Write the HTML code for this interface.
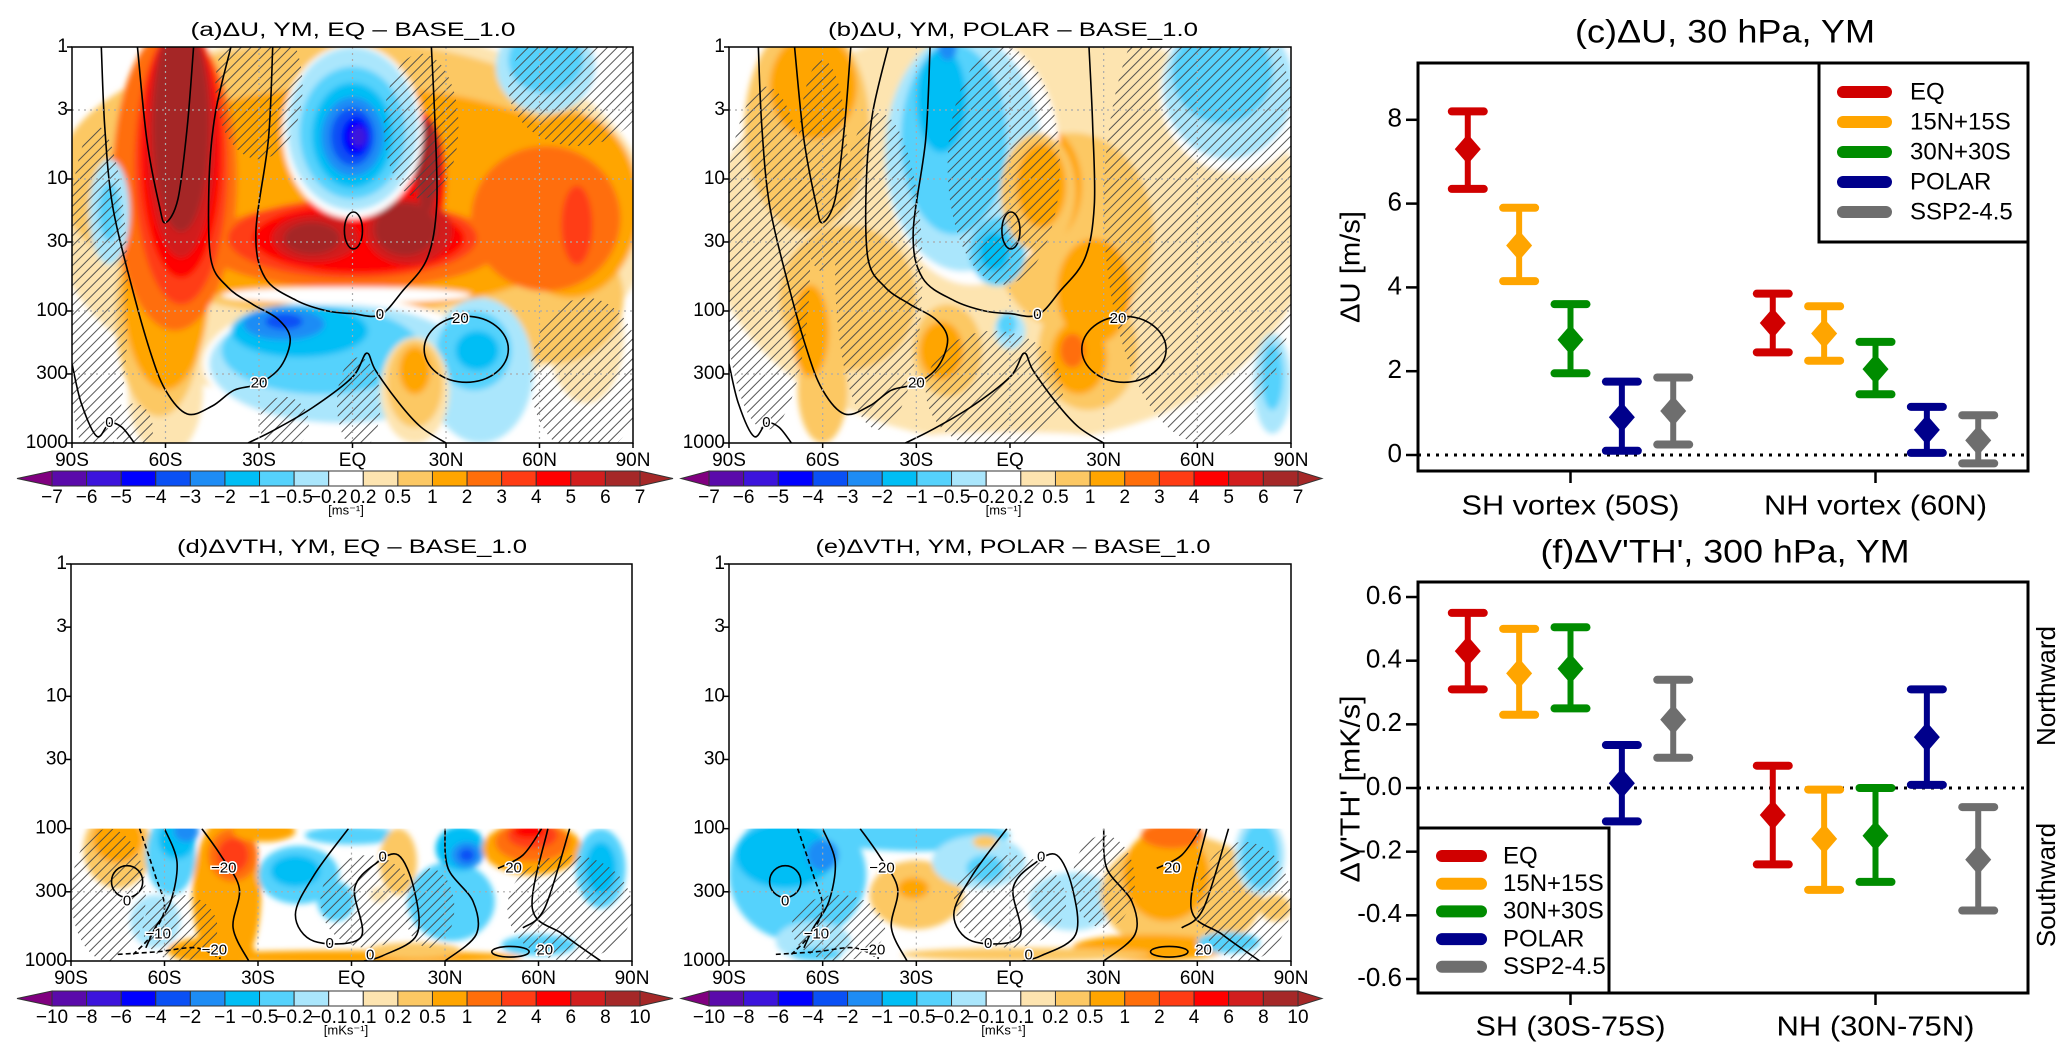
<!DOCTYPE html>
<html><head><meta charset="utf-8"><title>Figure</title>
<style>
html,body{margin:0;padding:0;background:#fff;}
svg{display:block;font-family:"Liberation Sans",sans-serif;}
</style></head>
<body>
<svg id="fig" width="2067" height="1053" viewBox="0 0 2067 1053" xmlns="http://www.w3.org/2000/svg">
<defs>
<pattern id="hatch" width="7" height="7" patternUnits="userSpaceOnUse" patternTransform="rotate(45)"><line x1="1" y1="0" x2="1" y2="7" stroke="#444" stroke-width="0.9"/></pattern>
<filter id="soft" filterUnits="userSpaceOnUse" x="0" y="0" width="2067" height="1053"><feGaussianBlur stdDeviation="3"/></filter>
</defs>
</svg>
<script>
// ===== Panel (c) data =====
const catsC=['SH vortex (50S)','NH vortex (60N)'];
const seriesNames=['EQ','15N+15S','30N+30S','POLAR','SSP2-4.5'];
const seriesColors=['#d00000','#ffa500','#008c00','#00008b','#6e6e6e'];
const cMean=[[7.3,5.0,2.75,0.9,1.05],[3.15,2.9,2.05,0.6,0.35]];
const cLow=[[6.35,4.15,1.95,0.1,0.25],[2.45,2.25,1.45,0.05,-0.2]];
const cHigh=[[8.2,5.9,3.6,1.75,1.85],[3.85,3.55,2.7,1.15,0.95]];
const cTicks=[0,2,4,6,8];
// ===== Panel (f) data =====
const catsF=['SH (30S-75S)','NH (30N-75N)'];
const fMean=[[0.43,0.36,0.375,0.015,0.215],[-0.085,-0.16,-0.15,0.16,-0.225]];
const fLow=[[0.31,0.23,0.25,-0.105,0.095],[-0.24,-0.32,-0.295,0.01,-0.385]];
const fHigh=[[0.55,0.5,0.505,0.135,0.34],[0.07,-0.005,0.0,0.31,-0.06]];
const fTicks=['0.6','0.4','0.2','0.0','-0.2','-0.4','-0.6'];
const fTickVals=[0.6,0.4,0.2,0.0,-0.2,-0.4,-0.6];
// ===== colorbar labels =====
const cbU=['−7','−6','−5','−4','−3','−2','−1','−0.5','−0.2','0.2','0.5','1','2','3','4','5','6','7'];
const cbV=['−10','−8','−6','−4','−2','−1','−0.5','−0.2','−0.1','0.1','0.2','0.5','1','2','4','6','8','10'];
const pTicks=[1,3,10,30,100,300,1000];
const latTicks=['90S','60S','30S','EQ','30N','60N','90N'];

const NS='http://www.w3.org/2000/svg';
const svg=document.getElementById('fig');
function mk(tag,attrs,parent){const e=document.createElementNS(NS,tag);for(const k in attrs)e.setAttribute(k,attrs[k]);(parent||svg).appendChild(e);return e;}
function txt(s,attrs,parent){const e=mk('text',attrs,parent);e.textContent=s;return e;}

const COL={c1:'#fde4b0',c2:'#fcc864',c3:'#ffa500',c4:'#ff6e0a',c5:'#ff3c14',c6:'#ff0000',c7:'#d21e1e',c8:'#a52828',
b1:'#aae6fc',b2:'#55d2fc',b3:'#00bef5',b4:'#1e8cf5',b5:'#0a50f5',b6:'#0000ff',b7:'#3c14dc',b8:'#5a0aaa',w:'#ffffff'};
const cbColors=['b8','b7','b6','b5','b4','b3','b2','b1','w','c1','c2','c3','c4','c5','c6','c7','c8'];

function smooth(pts){
  let d='M'+pts[0][0]+','+pts[0][1];
  for(let i=0;i<pts.length-1;i++){
    const p0=pts[Math.max(0,i-1)],p1=pts[i],p2=pts[i+1],p3=pts[Math.min(pts.length-1,i+2)];
    const c1x=p1[0]+(p2[0]-p0[0])/6,c1y=p1[1]+(p2[1]-p0[1])/6,c2x=p2[0]-(p3[0]-p1[0])/6,c2y=p2[1]-(p3[1]-p1[1])/6;
    d+=' C'+c1x.toFixed(1)+','+c1y.toFixed(1)+' '+c2x.toFixed(1)+','+c2y.toFixed(1)+' '+p2[0].toFixed(1)+','+p2[1].toFixed(1);
  }
  return d;
}

function field(cfg){
  const {id,L,T,W,H,minLog}=cfg;
  const X=lat=>L+(lat+90)/180*W, Y=lg=>T+lg/3*H;
  const g=mk('g',{});
  
  
  const clip=mk('clipPath',{id:'clip-'+id},svg.querySelector('defs'));
  mk('rect',{x:L,y:Y(minLog),width:W,height:T+H-Y(minLog)},clip);
  const cg=mk('g',{'clip-path':'url(#clip-'+id+')'},g);
  const sg=mk('g',{filter:'url(#soft)'},cg);
  cfg.shapes.forEach(s=>{
    const e=mk('ellipse',{cx:X(s[1]),cy:Y(s[2]),rx:s[3]/180*W,ry:s[4]/3*H,fill:COL[s[0]]},sg);
    
    
  });
  cfg.hatches.forEach(s=>{
    const e=mk('ellipse',{cx:X(s[0]),cy:Y(s[1]),rx:s[2]/180*W,ry:s[3]/3*H,fill:'url(#hatch)'},cg);
    
    
  });
  [-60,-30,0,30,60].forEach(lat=>{
    const e=mk('line',{x1:X(lat),x2:X(lat),y1:Y(minLog),y2:T+H,stroke:'#aaa','stroke-width':1.2,'stroke-dasharray':'2 4'},g);
    
    
  });
  pTicks.forEach(p=>{const lg=Math.log10(p);if(lg>minLog&&lg<3){
    const e=mk('line',{x1:L,x2:L+W,y1:Y(lg),y2:Y(lg),stroke:'#aaa','stroke-width':1.2,'stroke-dasharray':'2 4'},g);
    
    }});
  cfg.contours.forEach(c=>{
    const pts=c.pts.map(q=>[X(q[0]),Y(q[1])]);
    const e=mk('path',{d:smooth(pts),fill:'none',stroke:'#000','stroke-width':1.6,'stroke-dasharray':c.dash?'5 3':'none'},cg);
    
    
  });
  (cfg.loops||[]).forEach(c=>{
    const e=mk('ellipse',{cx:X(c[0]),cy:Y(c[1]),rx:c[2]/180*W,ry:c[3]/3*H,fill:'none',stroke:'#000','stroke-width':1.6},cg);
    
    
  });
  (cfg.clabels||[]).forEach(c=>{
    const e=txt(c[2],{x:X(c[0]),y:Y(c[1]),'font-size':15,'text-anchor':'middle','dominant-baseline':'middle',fill:'#000',stroke:'#fff','stroke-width':3,'paint-order':'stroke'},cg);
    
    
  });
  const fr=mk('rect',{x:L,y:T,width:W,height:H,fill:'none',stroke:'#000','stroke-width':1.5},g);
  
  
  pTicks.forEach(p=>{
    const y=Y(Math.log10(p));
    mk('line',{x1:L-5,x2:L,y1:y,y2:y,stroke:'#000','stroke-width':1.5},g);
    const t=txt(String(p),{x:L-4,y:y,'font-size':19,'text-anchor':'end','dominant-baseline':'middle'},g);
    
    
  });
  latTicks.forEach((s,i)=>{
    const x=L+i*W/6;
    mk('line',{x1:x,x2:x,y1:T+H,y2:T+H+5,stroke:'#000','stroke-width':1.5},g);
    const t=txt(s,{x:x,y:T+H+18,'font-size':19,'text-anchor':'middle','dominant-baseline':'middle'},g);
    
    
  });
  const ti=txt(cfg.title,{x:cfg.titleX,y:T-16,'font-size':19,'text-anchor':'middle','dominant-baseline':'middle',textLength:cfg.titleW,lengthAdjust:'spacingAndGlyphs'},g);
  
  
  const cb=mk('g',{},g);
  
  
  const n=cbColors.length,bw=(cfg.cbX1-cfg.cbX0)/n,y0=cfg.cbY,y1=cfg.cbY+15;
  mk('polygon',{points:`${cfg.cbX0},${y0} ${cfg.cbX0},${y1} ${cfg.cbTipL},${(y0+y1)/2}`,fill:'#800080',stroke:'#333','stroke-width':1},cb);
  mk('polygon',{points:`${cfg.cbX1},${y0} ${cfg.cbX1},${y1} ${cfg.cbTipR},${(y0+y1)/2}`,fill:'#a52828',stroke:'#333','stroke-width':1},cb);
  cbColors.forEach((c,i)=>{
    const r=mk('rect',{x:cfg.cbX0+i*bw,y:y0,width:bw,height:15,fill:COL[c],stroke:'#333','stroke-width':1},cb);
    
    
  });
  cfg.cbLabels.forEach((s,i)=>{
    const t=txt(s,{x:cfg.cbX0+i*bw,y:y1+12,'font-size':19,'text-anchor':'middle','dominant-baseline':'middle'},cb);
    
    
  });
  const u=txt(cfg.unit,{x:(cfg.cbX0+cfg.cbX1)/2,y:y1+25,'font-size':13,'text-anchor':'middle','dominant-baseline':'middle'},cb);
  
  
}

const uContours=[
 {pts:[[-80.6,0],[-79.5,0.6],[-77,1.2],[-71,1.8],[-65,2.3],[-60,2.6],[-53,2.78],[-45,2.72],[-38,2.6],[-30,2.55],[-23,2.42],[-20,2.21],[-24,2.06],[-32,1.95],[-40,1.82],[-45.5,1.6],[-46,1.0],[-44,0.5],[-39,0]]},
 {pts:[[-69,0],[-66,0.7],[-62,1.2],[-60,1.33],[-56,1.15],[-53,0.6],[-51,0]]},
 {pts:[[-25.6,0],[-27,0.7],[-31,1.4],[-28,1.75],[-18,1.92],[-8,2.0],[0,2.02],[8.8,2.03],[16,1.85],[24,1.6],[27,1.2],[26.5,0.6],[25.3,0]]},
 {pts:[[-33.5,3.0],[-25,2.9],[-12.7,2.73],[0,2.5],[4.5,2.32],[7.4,2.45],[15,2.7],[22,2.88],[30,3.0]]},
 {pts:[[-90,2.4],[-87,2.7],[-82,2.95],[-78,2.85],[-74,2.88],[-70,3.0]]}
];
const uLoops=[[0.3,1.39,2.9,0.14],[36.5,2.29,13.5,0.25]];
const uLabels=[[8.8,2.03,'0'],[-30,2.55,'20'],[34.6,2.06,'20'],[-78,2.85,'0']];

field({id:'panel-a',L:72,T:47,W:561,H:396,minLog:0,title:'(a)ΔU, YM, EQ – BASE_1.0',titleX:353,titleW:325,
 cbLabels:cbU,cbX0:52,cbX1:640,cbTipL:17,cbTipR:673,cbY:471,unit:'[ms⁻¹]',
 shapes:[
  ['c1',0,1.3,96,1.45],['c1',-60,2.6,12,0.5],['c1',75,2.2,12,0.5],
  ['w',70,0.1,22,0.3],
  ['c2',-5,1.0,90,1.05],['c2',-62,2.0,14,0.8],['c2',65,1.9,22,0.5],
  ['c3',0,1.15,84,0.85],['c3',-60,1.8,14,0.8],['c3',70,1.2,22,0.7],
  ['c4',-57,1.0,20,1.15],['c4',62,1.3,24,0.55],['c4',0,1.5,48,0.33],
  ['c5',-55,0.9,15,1.05],['c5',0,1.45,40,0.3],['c5',72,1.35,5,0.3],
  ['c6',-55,0.8,13,0.95],['c6',2,1.45,34,0.26],['c6',22,1.0,8,0.5],
  ['c7',-55,0.7,11,0.9],['c7',-12,1.45,14,0.18],['c7',18,1.4,14,0.25],
  ['c8',-55,0.6,9,0.8],['c8',-13,1.45,9,0.12],['c8',17,1.38,10,0.2],['c8',24,0.9,4,0.35],
  ['w',0,0.64,22.5,0.66],
  ['b1',0,0.62,21,0.62],['b2',0,0.65,17,0.5],['b3',0,0.67,13,0.4],['b4',0,0.68,10,0.3],['b5',0,0.68,7,0.22],['b6',1,0.68,4.5,0.15],['b7',2,0.68,2.5,0.08],
  ['w',-2,1.88,40,0.06],
  ['w',-2,2.4,46,0.5],
  ['b1',-4,2.4,42,0.45],['b2',-10,2.3,32,0.33],['b3',-17,2.15,22,0.2],['b4',-22,2.1,13,0.12],['b5',-22,2.08,6,0.06],
  ['b1',41,2.45,17,0.55],['b2',39,2.3,12,0.3],['b3',40,2.3,7,0.15],
  ['c1',20,2.6,11,0.4],['c2',20,2.55,9,0.33],['c3',20,2.45,5,0.18],
  ['w',-85,2.8,10,0.4],
  ['b1',-78,1.25,6.5,0.4],['b2',-78,1.25,3.5,0.22],
  ['b1',62,0.15,16,0.35],['b2',62,0.1,12,0.25]
 ],
 hatches:[[-82,1.9,10,1.3],[-30,0.3,14,0.55],[22,0.6,12,0.55],[72,0.3,22,0.45],[75,2.5,18,0.6],[2,2.7,7,0.35],[-22,2.85,8,0.2],[-70,2.9,6,0.2]],
 contours:uContours,loops:uLoops,clabels:uLabels});

field({id:'panel-b',L:729,T:47,W:562,H:396,minLog:0,title:'(b)ΔU, YM, POLAR – BASE_1.0',titleX:1013,titleW:370,
 cbLabels:cbU,cbX0:709,cbX1:1298,cbTipL:681,cbTipR:1322,cbY:471,unit:'[ms⁻¹]',
 shapes:[
  ['c1',0,1.4,96,1.6],['w',-85,2.95,8,0.15],['w',0,2.97,30,0.05],
  ['c2',-65,0.6,20,0.8],['c2',-52,1.9,22,0.55],['c2',-20,2.3,11,0.35],['c2',20,1.4,26,0.75],['c2',25,2.3,16,0.45],['c2',-60,2.6,8,0.4],
  ['c3',-63,0.3,14,0.4],['c3',10,1.05,13,0.45],['c3',27,1.85,12,0.4],['c3',22,2.35,9,0.28],['c3',-22,2.3,7,0.22],['c3',-64,2.15,6,0.35],
  ['c4',20,2.3,4,0.13],
  ['w',-12,0.85,28,0.95],
  ['b1',-15,0.8,25,0.9],['b2',-18,0.7,17,0.72],['b3',-22,0.4,8,0.4],['b4',-20,0.0,3,0.1],['b2',-4,1.55,9,0.26],['b3',-5,1.55,5,0.15],
  ['c2',9,1.1,12,0.45],['c3',10,1.05,8,0.32],
  ['w',72,0.35,24,0.6],['b1',70,0.3,21,0.55],['b2',68,0.2,16,0.38],
  ['b1',0,2.15,5,0.14],['b2',-1,2.1,3,0.09],['b1',84,2.55,6,0.38],['b2',84,2.5,3.5,0.25]
 ],
 hatches:[[-78,1.6,14,1.3],[-42,1.7,14,1.2],[-2,0.9,18,0.9],[62,1.2,32,1.8],[-5,2.6,22,0.45],[-60,0.9,8,0.8]],
 contours:uContours,loops:uLoops,clabels:uLabels});

const vContoursD=[
 {pts:[[-68,2.0],[-63,2.35],[-60,2.6],[-64,2.8],[-70,2.95]],dash:true},
 {pts:[[-60,2.0],[-56,2.25],[-58,2.55],[-63,2.75],[-66,2.9]]},
 {pts:[[-48,2.0],[-42,2.2],[-36,2.45],[-38,2.75],[-33,3.0]]},
 {pts:[[-1,2.0],[-12,2.35],[-18,2.65],[-12,2.85],[3,2.82],[1,2.45],[8,2.26],[15,2.2],[20,2.45],[21,2.8],[10,2.96],[4,3.0]]},
 {pts:[[30,2.0],[31,2.3],[39,2.55],[40,2.8],[30,3.0]]},
 {pts:[[47,2.3],[55,2.2],[61,2.0]]},
 {pts:[[63,2.0],[58,2.6],[68,2.8],[80,3.0]]},
 {pts:[[70,2.0],[62,2.6],[55,2.75]]},
 {pts:[[-75,2.95],[-62,2.93],[-50,2.9],[-42,2.98]],dash:true}
];
const vLoops=[[-72,2.4,5,0.12],[51,2.93,6,0.04]];
const vLabels=[[-72,2.55,'0'],[-41,2.3,'−20'],[-62,2.8,'−10'],[-44,2.92,'−20'],[-7,2.87,'0'],[10,2.22,'0'],[6,2.96,'0'],[52,2.3,'20'],[62,2.92,'20']];

field({id:'panel-d',L:71,T:564,W:561,H:397,minLog:2,title:'(d)ΔVTH, YM, EQ – BASE_1.0',titleX:352,titleW:350,
 cbLabels:cbV,cbX0:52,cbX1:640,cbTipL:17,cbTipR:673,cbY:991,unit:'[mKs⁻¹]',
 shapes:[
  ['c2',-75,2.15,11,0.3],['c3',-75,2.08,8,0.18],
  ['b2',-58,2.2,8,0.3],['b3',-56,2.08,6,0.15],['b4',-53,2.02,4,0.08],['b1',-63,2.7,8,0.2],
  ['c3',-40,2.5,11,0.6],['c3',-45,2.92,14,0.1],['c4',-38,2.2,8,0.2],['c5',-38,2.2,5,0.13],['c3',-28,2.02,10,0.08],
  ['b2',-17,2.35,13,0.22],['b3',-18,2.32,8,0.12],['b2',-5,2.55,6,0.15],['b2',0,2.05,15,0.07],
  ['c2',15,2.25,6,0.25],['c1',9,2.5,3,0.06],
  ['b2',32,2.55,14,0.3],['b3',35,2.15,8,0.17],['b4',37,2.2,5,0.1],['b5',37,2.2,2.5,0.05],
  ['c3',58,2.15,16,0.2],['c4',58,2.1,12,0.15],['c5',58,2.05,8,0.1],['c6',57,2.02,5,0.05],
  ['b2',80,2.3,8,0.3],['b3',80,2.3,5,0.2],
  ['c3',0,2.97,55,0.05],['c2',20,2.92,15,0.06],['b2',60,2.88,12,0.08]
 ],
 hatches:[[-78,2.5,12,0.5],[-55,2.75,12,0.25],[5,2.55,15,0.35],[70,2.6,20,0.4],[25,2.6,8,0.3]],
 contours:vContoursD,loops:vLoops,clabels:vLabels});

field({id:'panel-e',L:729,T:564,W:562,H:397,minLog:2,title:'(e)ΔVTH, YM, POLAR – BASE_1.0',titleX:1013,titleW:395,
 cbLabels:cbV,cbX0:709,cbX1:1298,cbTipL:681,cbTipR:1322,cbY:991,unit:'[mKs⁻¹]',
 shapes:[
  ['b2',-68,2.35,22,0.5],['b3',-72,2.2,16,0.25],['b4',-60,2.2,5,0.12],['b1',-63,2.85,12,0.15],['b2',-62,2.95,8,0.05],
  ['b2',-30,2.05,30,0.12],
  ['c2',-30,2.5,15,0.26],['c3',-31,2.45,5,0.08],
  ['b1',-10,2.25,15,0.2],['b2',-8,2.3,6,0.1],
  ['c2',-8,2.1,4,0.05],
  ['b2',22,2.55,10,0.15],['b1',20,2.55,14,0.22],
  ['c2',55,2.5,26,0.45],['c3',50,2.35,14,0.35],['c4',52,2.05,10,0.1],['c3',45,2.9,25,0.1],['c2',5,2.95,40,0.05],
  ['b1',80,2.2,8,0.3],['b2',80,2.2,6,0.25],['b2',70,2.86,10,0.08],['c2',85,2.6,5,0.1]
 ],
 hatches:[[-55,2.75,15,0.25],[0,2.55,18,0.35],[30,2.4,10,0.35],[75,2.55,15,0.45]],
 contours:vContoursD,loops:vLoops,clabels:vLabels});

function errPanel(cfg){
  const {id,L,T,W,H,yFn}=cfg;
  const g=mk('g',{});
  
  
  const xCat=gi=>L+W*(0.25+0.5*gi);
  const xS=(gi,si)=>xCat(gi)+(si-2)*W*0.0842;
  const z=mk('line',{x1:L,x2:L+W,y1:yFn(0),y2:yFn(0),stroke:'#000','stroke-width':3,'stroke-dasharray':'3 6'},g);
  
  
  cfg.mean.forEach((arr,gi)=>arr.forEach((m,si)=>{
    const x=xS(gi,si),c=seriesColors[si];
    const bar=mk('g',{},g);
    
    
    const yl=yFn(cfg.low[gi][si]),yh=yFn(cfg.high[gi][si]),ym=yFn(m);
    mk('line',{x1:x,x2:x,y1:yl,y2:yh,stroke:c,'stroke-width':6},bar);
    mk('line',{x1:x-16,x2:x+16,y1:yl,y2:yl,stroke:c,'stroke-width':8,'stroke-linecap':'round'},bar);
    mk('line',{x1:x-16,x2:x+16,y1:yh,y2:yh,stroke:c,'stroke-width':8,'stroke-linecap':'round'},bar);
    mk('polygon',{points:`${x},${ym-15} ${x+13},${ym} ${x},${ym+15} ${x-13},${ym}`,fill:c},bar);
  }));
  const fr=mk('rect',{x:L,y:T,width:W,height:H,fill:'none',stroke:'#000','stroke-width':3},g);
  
  
  cfg.ticks.forEach((s,i)=>{
    const y=yFn(cfg.tickVals[i]);
    mk('line',{x1:L-12,x2:L,y1:y,y2:y,stroke:'#000','stroke-width':2.5},g);
    const t=txt(s,{x:L-16,y:y,'font-size':26,'text-anchor':'end','dominant-baseline':'middle'},g);
    
    
  });
  cfg.cats.forEach((s,gi)=>{
    const x=xCat(gi);
    mk('line',{x1:x,x2:x,y1:T+H,y2:T+H+12,stroke:'#000','stroke-width':2.5},g);
    const t=txt(s,{x:x,y:cfg.catY,'font-size':28,'text-anchor':'middle','dominant-baseline':'middle',textLength:cfg.catW[gi],lengthAdjust:'spacingAndGlyphs'},g);
    
    
  });
  const ti=txt(cfg.title,{x:1725,y:cfg.titleY,'font-size':32,'text-anchor':'middle','dominant-baseline':'middle',textLength:cfg.titleW,lengthAdjust:'spacingAndGlyphs'},g);
  
  
  const yl=txt(cfg.ylabel,{x:0,y:0,'font-size':28,'text-anchor':'middle','dominant-baseline':'middle',transform:`translate(1352,${cfg.ylabelY}) rotate(-90)`,textLength:cfg.ylabelW,lengthAdjust:'spacingAndGlyphs'},g);
  
  
  const lg=mk('g',{},g);
  
  
  const b=cfg.leg;
  mk('rect',{x:b.x,y:b.y,width:b.w,height:b.h,fill:'#fff',stroke:'#000','stroke-width':3},lg);
  seriesNames.forEach((s,i)=>{
    const y=b.y0+i*b.dy;
    const e=mk('g',{},lg);
    
    
    mk('line',{x1:b.sx+6,x2:b.sx+b.sw-6,y1:y,y2:y,stroke:seriesColors[i],'stroke-width':12,'stroke-linecap':'round'},e);
    txt(s,{x:b.tx,y:y+1,'font-size':24,'dominant-baseline':'middle'},e);
  });
}

errPanel({id:'panel-c',L:1418,T:63,W:610,H:408,yFn:v=>455-v*41.9,mean:cMean,low:cLow,high:cHigh,
 ticks:cTicks.map(String),tickVals:cTicks,cats:catsC,catY:507,catW:[218,223],title:'(c)ΔU, 30 hPa, YM',titleY:34,titleW:300,
 ylabel:'ΔU [m/s]',ylabelY:267,ylabelW:112,
 leg:{x:1819,y:63,w:209,h:179,y0:92,dy:30,sx:1837,sw:55,tx:1910}});

errPanel({id:'panel-f',L:1418,T:582,W:610,H:411,yFn:v=>788-v*318.3,mean:fMean,low:fLow,high:fHigh,
 ticks:fTicks,tickVals:fTickVals,cats:catsF,catY:1028,catW:[190,198],title:"(f)ΔV'TH', 300 hPa, YM",titleY:554,titleW:369,
 ylabel:"ΔV'TH' [mK/s]",ylabelY:789,ylabelW:187,
 leg:{x:1418,y:828,w:191,h:165,y0:856,dy:27.7,sx:1436,sw:51,tx:1503}});

const nw=txt('Northward',{x:0,y:0,'font-size':26,'text-anchor':'middle','dominant-baseline':'middle',transform:'translate(2048,686) rotate(-90)'});


const sw=txt('Southward',{x:0,y:0,'font-size':26,'text-anchor':'middle','dominant-baseline':'middle',transform:'translate(2048,885) rotate(-90)'});


</script>
</body></html>
